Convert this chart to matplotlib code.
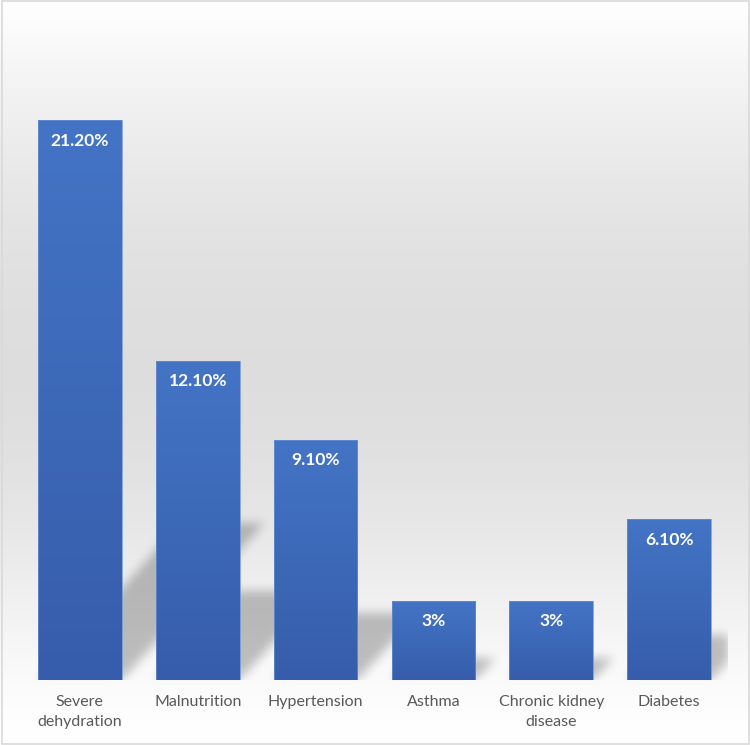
import numpy as np
import matplotlib.pyplot as plt
from matplotlib.patches import Rectangle

# Data
categories = ['Severe\ndehydration', 'Malnutrition', 'Hypertension',
              'Asthma', 'Chronic kidney\ndisease', 'Diabetes']
values = [21.2, 12.1, 9.1, 3.0, 3.0, 6.1]
labels = ['21.20%', '12.10%', '9.10%', '3%', '3%', '6.10%']

plt.rcParams['font.family'] = ['Lato', 'DejaVu Sans']

W, H = 750, 745
fig = plt.figure(figsize=(W / 100, H / 100), dpi=100)

# background gradient (white -> gray -> white)
bg = fig.add_axes([0, 0, 1, 1], zorder=0)
t = np.linspace(0, 1, 400)
shade = 1 - 0.13 * np.sin(np.pi * t)
shade[t > 0.5] = 1 - 0.13 * np.sin(np.pi * t[t > 0.5]) ** 1.5
bg_img = np.repeat(shade[:, None, None], 3, axis=2)
bg.imshow(bg_img, aspect='auto', extent=[0, 1, 0, 1], origin='upper')
bg.add_patch(Rectangle((0.002, 0.002), 0.996, 0.996, fill=False,
                       edgecolor='#d9d9d9', linewidth=1.2, transform=bg.transAxes))
bg.set_xlim(0, 1)
bg.set_ylim(0, 1)
bg.axis('off')

ax_px = (21, 65, 707, 660)  # left, bottom, width, height in pixels
ax = fig.add_axes([ax_px[0] / W, ax_px[1] / H, ax_px[2] / W, ax_px[3] / H], zorder=1)
ax.patch.set_alpha(0)

x = np.arange(len(values))
width = 0.71
xlim = (-0.5, len(values) - 0.5)
ylim = (0, 25)

# perspective shadows, rasterised on a pixel grid and blurred
nx, ny = ax_px[2], ax_px[3]
gx = xlim[0] + (np.arange(nx) + 0.5) / nx * (xlim[1] - xlim[0])
gy = ylim[0] + (np.arange(ny) + 0.5) / ny * (ylim[1] - ylim[0])
XX, YY = np.meshgrid(gx, gy)
mask = np.zeros_like(XX)
for xi, v in zip(x, values):
    sh = 0.28 * v            # shadow height (data units)
    d = 0.057 * v            # horizontal skew at full shadow height
    shift = YY / sh * d
    m = (YY <= sh) & (XX >= xi - width / 2 + shift) & (XX <= xi + width / 2 + shift)
    mask = np.maximum(mask, m.astype(float))

sig = 5.0
k = np.arange(-15, 16)
kern = np.exp(-k ** 2 / (2 * sig ** 2))
kern /= kern.sum()
pad = np.pad(mask, ((15, 15), (15, 15)), mode='constant')
blur = np.apply_along_axis(lambda r: np.convolve(r, kern, mode='same'), 1, pad)
blur = np.apply_along_axis(lambda c: np.convolve(c, kern, mode='same'), 0, blur)
blur = blur[15:-15, 15:-15]
shadow = np.zeros((ny, nx, 4))
shadow[..., 3] = blur * 0.24
ax.imshow(shadow, extent=[xlim[0], xlim[1], ylim[0], ylim[1]], origin='lower',
          aspect='auto', zorder=1, interpolation='bilinear')

bars = ax.bar(x, values, width=width, color='#4070c0', zorder=2)

# vertical gradient inside each bar
grad = np.linspace(0, 1, 256)[:, None]
top_c = np.array([0x44, 0x74, 0xc6]) / 255
bot_c = np.array([0x36, 0x5d, 0xab]) / 255
img = top_c * (1 - grad[..., None]) + bot_c * grad[..., None]
for b in bars:
    im = ax.imshow(img, extent=[b.get_x(), b.get_x() + b.get_width(), 0, b.get_height()],
                   aspect='auto', origin='upper', zorder=3)
    im.set_clip_path(b)
ax.bar(x, values, width=width, facecolor='none', edgecolor='#6b90d2',
       linewidth=0.5, zorder=3.5)

for b, lab in zip(bars, labels):
    ax.text(b.get_x() + b.get_width() / 2, b.get_height() - 0.78, lab,
            ha='center', va='center', color='white', fontsize=12.5,
            fontweight='bold', zorder=4)

ax.set_xlim(*xlim)
ax.set_ylim(*ylim)
ax.set_xticks(x)
ax.set_xticklabels(categories, fontsize=11.5, color='#595959', linespacing=1.5)
ax.tick_params(axis='x', length=0, pad=11)
ax.set_yticks([])
for s in ax.spines.values():
    s.set_visible(False)

plt.savefig('out.png', dpi=100)
